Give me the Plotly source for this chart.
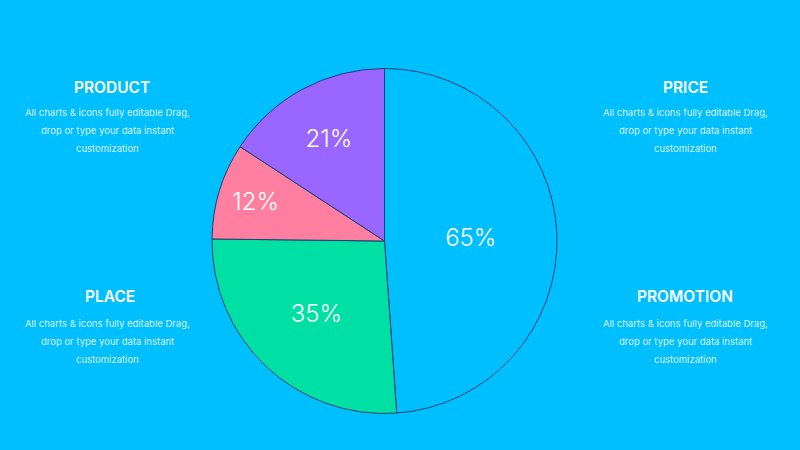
import plotly.graph_objects as go

categories = ["Price", "Place", "Promotion", "Product"]
values = [65, 35, 12, 21]
slice_colors = ["#00BFFF", "#00E0A4", "#FF7FA0", "#9966FF"]

headings = ["PRODUCT", "PRICE", "PLACE", "PROMOTION"]
heading_x = [112, 685, 110, 685]
heading_y = [87, 87, 296, 296]
body_lines = ["All charts & icons fully editable Drag,",
              "drop or type your data instant",
              "customization"]
body_x = [107, 685, 107, 685]
body_y0 = [112, 112, 323, 323]
line_gap = 18

W, H = 800, 450
cx, cy, r = 384.5, 241, 172.5

fig = go.Figure(go.Pie(
    labels=categories,
    values=values,
    sort=False,
    direction="clockwise",
    rotation=0,
    marker=dict(colors=slice_colors, line=dict(color="#1F3F70", width=1)),
    texttemplate="%{value}%",
    textposition="inside",
    insidetextorientation="horizontal",
    textfont=dict(family="Inter", size=24, color="white", weight=300),
    hoverinfo="label+value",
    showlegend=False,
    domain=dict(x=[(cx - r) / W, (cx + r) / W], y=[(H - cy - r) / H, (H - cy + r) / H]),
))

ann = []
for i, h in enumerate(headings):
    ann.append(dict(x=heading_x[i] / W, y=1 - heading_y[i] / H, xref="paper", yref="paper",
                    text=h, showarrow=False, xanchor="center", yanchor="middle",
                    font=dict(family="Inter", size=15.5, color="white", weight=600)))
    for j, line in enumerate(body_lines):
        ann.append(dict(x=body_x[i] / W, y=1 - (body_y0[i] + j * line_gap) / H,
                        xref="paper", yref="paper", text=line, showarrow=False,
                        xanchor="center", yanchor="middle",
                        font=dict(family="Inter", size=9.5, color="#D6F1FF")))

fig.update_layout(
    width=W, height=H,
    margin=dict(l=0, r=0, t=0, b=0),
    paper_bgcolor="#00BFFF",
    plot_bgcolor="#00BFFF",
    annotations=ann,
)

fig.write_html("out.html",
               config={"displayModeBar": False},
               post_script="document.body.style.margin='0';document.body.style.background='#00BFFF';")
